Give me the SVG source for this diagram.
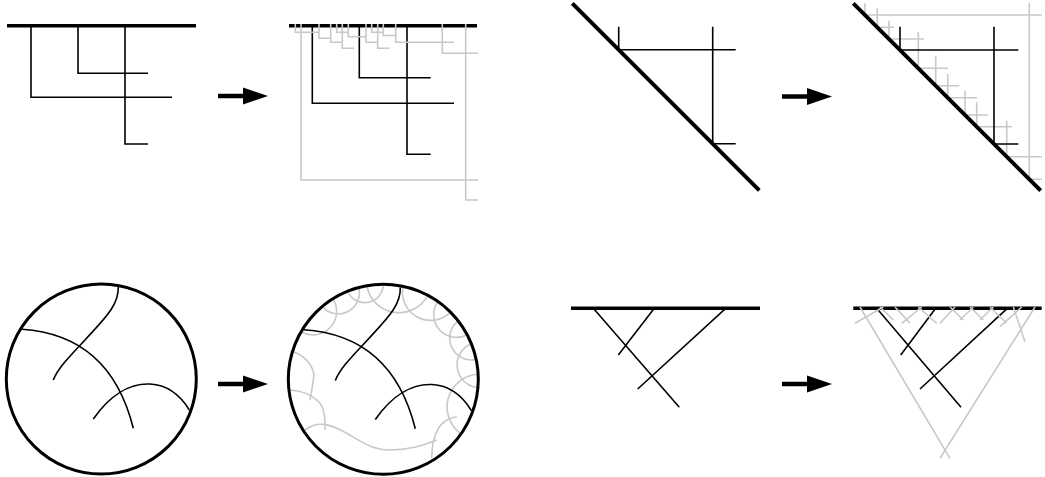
<svg xmlns="http://www.w3.org/2000/svg" width="1045" height="477" viewBox="0 0 1045 477">
<defs>
<style>
.thick{stroke:#000;stroke-width:3.5;fill:none}
.diag{stroke:#000;stroke-width:4;fill:none}
.thin{stroke:#000;stroke-width:1.6;fill:none}
.gray{stroke:#c8c8c8;stroke-width:1.6;fill:none}
.circ{stroke:#000;stroke-width:3;fill:none}
.shaft{stroke:#000;stroke-width:4.5;fill:none}
.head{fill:#000;stroke:none}
</style>
<g id="arrowShape">
<line class="shaft" x1="0" y1="0" x2="30" y2="0"/>
<polygon class="head" points="25,-8.5 50,0 25,8.5"/>
</g>
</defs>
<rect width="1045" height="477" fill="#fff"/>

<g id="tree-bar-before">
<path class="thick" d="M7,25.7 H196"/>
<path class="thin" d="M31,25.7 V97.3 H172 M78,25.7 V73.3 H148 M125,25.7 V144 H148"/>
</g>

<g id="tree-bar-after">
<path class="thick" d="M289,25.7 H477"/>
<path class="thin" d="M312.3,25.7 V103.3 H454 M359.3,25.7 V77.7 H430.7 M407,25.7 V154.3 H430.7"/>
<path class="gray" d="M295.3,24 V32.3 H319 M301,24 V180 H478 M319,24 V38.3 H331 M330.7,24 V42.3 H342.3 M336.7,24 V32.3 H348.3 M342.3,24 V48.3 H354 M348.3,24 V36.7 H366 M366,24 V42.3 H377.7 M371.7,24 V32.3 H383.3 M377.7,24 V48.3 H389.3 M383.3,24 V35.5 H395.7 M395.7,24 V42.3 H454 M442.3,24 V53.3 H478 M465.7,24 V200 H478"/>
</g>

<g id="tree-diag-before">
<path class="diag" d="M572.3,3.3 L759.3,190.3"/>
<path class="thin" d="M618.7,26.7 V49.7 H735.7 M712.7,26.7 V143.7 H735.7"/>
</g>

<g id="tree-diag-after">
<path class="gray" d="M865,3.3 V15 H1041.7 M877.3,8.3 V27.3 H894 M889,20.7 V39 H924 M918.3,32.3 V68.3 H947.7 M935.7,55.7 V85.7 H959.3 M947.7,74 V97.7 H977.3 M965,90.7 V115 H988.3 M976.7,102.3 V126.7 H1011.7 M1006.7,120.7 V156.7 H1041.7 M1029.3,3.3 V179.3 H1041.7"/>
<path class="diag" d="M853.3,3.3 L1040.7,190.7"/>
<path class="thin" d="M900,26.7 V50 H1018.3 M994,26.7 V144 H1018.3"/>
</g>

<g id="disk-before">
<circle class="circ" cx="101.3" cy="379" r="95"/>
<path class="thin" d="M118.3,286.7 C119,306 103,320 85,340 C70,356 58,368 53.3,380"/>
<path class="thin" d="M21.7,329.3 Q110,335 133.3,428.3"/>
<path class="thin" d="M93.3,419 C110,395 130,383 150,384 C170,385 182,398 189.3,410"/>
</g>

<g id="disk-after">
<path class="gray" d="M301,331.8 A23.7,23.7 0 0 0 333,298.7 M322.2,306.5 A21.1,21.1 0 0 0 358.7,287.5 M347.7,291.2 A18.5,18.5 0 0 0 383.3,284.3 M366.8,285.7 A32.7,32.7 0 0 0 427.9,295.4 M403.1,286.4 A28.1,28.1 0 0 0 450.5,312.1 M437.8,301.5 A22.8,22.8 0 0 0 467.2,334.7 M458.2,320.8 A21.9,21.9 0 0 0 476.2,359.5 M471.4,343.7 A22.8,22.8 0 0 0 477.9,387.6 M478.2,374.3 A32.7,32.7 0 0 0 461.1,433.8"/>
<path class="gray" d="M456.7,416.7 Q432,420 431.7,458.3"/>
<path class="gray" d="M305,430 C318,420 330,424 346.7,433.3 C362,442 372,450 390,450 C410,450 425,445 436.7,440"/>
<path class="gray" d="M293.3,351.7 C308,357 316,370 313.3,380 C312,390 311,395 310,400"/>
<path class="gray" d="M290,390 C305,391 320,398 323.3,410 C326,420 325,425 325,430"/>
<circle class="circ" cx="383.3" cy="379.3" r="95"/>
<g transform="translate(282,0.5)">
<path class="thin" d="M118.3,286.7 C119,306 103,320 85,340 C70,356 58,368 53.3,380"/>
<path class="thin" d="M21.7,329.3 Q110,335 133.3,428.3"/>
<path class="thin" d="M93.3,419 C110,395 130,383 150,384 C170,385 182,398 189.3,410"/>
</g>
</g>

<g id="wedge-before">
<path class="thick" d="M571,308.3 H760"/>
<path class="thin" d="M593.3,308.3 L679.3,407.3 M654.3,308.3 L618.3,355 M725.7,308.3 L637.7,389"/>
</g>

<g id="wedge-after">
<path class="thick" d="M853.3,308.3 H1041.7"/>
<path class="thin" d="M876.7,308.3 L961,407.3 M935.7,308.3 L900.7,355 M1007.3,308.3 L920,389"/>
<path class="gray" d="M860,307 L950,458.3 M1035,307 L940,458.3 M883.3,307 L855,323.3 M880,307 L893.3,320 M895,307 L910,323.3 M921.7,307 L901.7,323.3 M918.3,307 L936.7,323.3 M955,307 L940,323.3 M950,307 L963.3,320 M973.3,307 L960,320 M970,307 L983.3,320 M993.3,307 L980,320 M990,307 L1006.7,323.3 M1021.7,307 L1000,326.7 M1013.3,307 L1025,341.7"/>
</g>

<g id="connectors">
<use href="#arrowShape" transform="translate(218,96)"/>
<use href="#arrowShape" transform="translate(782,96.5)"/>
<use href="#arrowShape" transform="translate(218,384)"/>
<use href="#arrowShape" transform="translate(782,384)"/>
</g>
</svg>
